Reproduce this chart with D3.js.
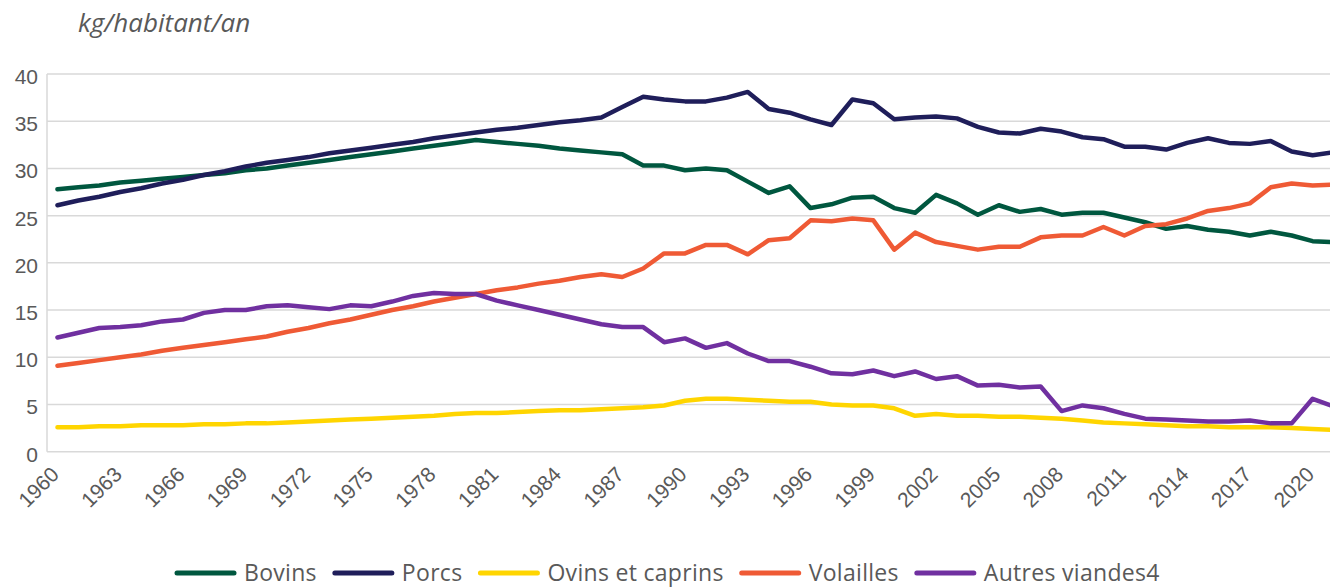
<!DOCTYPE html>
<html>
<head>
<meta charset="utf-8">
<script src="https://cdn.jsdelivr.net/npm/d3@7"></script>
<style>
    body { margin: 0; background: #fff; }
    svg { display: block; font-family: "Open Sans", "Noto Sans", sans-serif; }
</style>
</head>
<body>
<script>
// consommation de viande par habitant, 1960-2021
var years = d3.range(1960, 2022);
var tickYears = d3.range(1960, 2021, 3);
var yTicks = [0, 5, 10, 15, 20, 25, 30, 35, 40];
var seriesNames = ["Bovins", "Porcs", "Ovins et caprins", "Volailles", "Autres viandes4"];
var seriesColors = ["#00573f", "#1f1e5a", "#ffd500", "#ef5a35", "#7030a0"];

var bovins = [27.8, 28.0, 28.2, 28.5, 28.7, 28.9, 29.1, 29.3, 29.5, 29.8,
    30.0, 30.3, 30.6, 30.9, 31.2, 31.5, 31.8, 32.1, 32.4, 32.7,
    33.0, 32.8, 32.6, 32.4, 32.1, 31.9, 31.7, 31.5, 30.3, 30.3,
    29.8, 30.0, 29.8, 28.6, 27.4, 28.1, 25.8, 26.2, 26.9, 27.0,
    25.8, 25.3, 27.2, 26.3, 25.1, 26.1, 25.4, 25.7, 25.1, 25.3,
    25.3, 24.8, 24.3, 23.6, 23.9, 23.5, 23.3, 22.9, 23.3, 22.9,
    22.3, 22.2];
var porcs = [26.1, 26.6, 27.0, 27.5, 27.9, 28.4, 28.8, 29.3, 29.7, 30.2,
    30.6, 30.9, 31.2, 31.6, 31.9, 32.2, 32.5, 32.8, 33.2, 33.5,
    33.8, 34.1, 34.3, 34.6, 34.9, 35.1, 35.4, 36.5, 37.6, 37.3,
    37.1, 37.1, 37.5, 38.1, 36.3, 35.9, 35.2, 34.6, 37.3, 36.9,
    35.2, 35.4, 35.5, 35.3, 34.4, 33.8, 33.7, 34.2, 33.9, 33.3,
    33.1, 32.3, 32.3, 32.0, 32.7, 33.2, 32.7, 32.6, 32.9, 31.8,
    31.4, 31.7];
var ovins = [2.6, 2.6, 2.7, 2.7, 2.8, 2.8, 2.8, 2.9, 2.9, 3.0,
    3.0, 3.1, 3.2, 3.3, 3.4, 3.5, 3.6, 3.7, 3.8, 4.0,
    4.1, 4.1, 4.2, 4.3, 4.4, 4.4, 4.5, 4.6, 4.7, 4.9,
    5.4, 5.6, 5.6, 5.5, 5.4, 5.3, 5.3, 5.0, 4.9, 4.9,
    4.6, 3.8, 4.0, 3.8, 3.8, 3.7, 3.7, 3.6, 3.5, 3.3,
    3.1, 3.0, 2.9, 2.8, 2.7, 2.7, 2.6, 2.6, 2.6, 2.5,
    2.4, 2.3];
var volailles = [9.1, 9.4, 9.7, 10.0, 10.3, 10.7, 11.0, 11.3, 11.6, 11.9,
    12.2, 12.7, 13.1, 13.6, 14.0, 14.5, 15.0, 15.4, 15.9, 16.3,
    16.7, 17.1, 17.4, 17.8, 18.1, 18.5, 18.8, 18.5, 19.4, 21.0,
    21.0, 21.9, 21.9, 20.9, 22.4, 22.6, 24.5, 24.4, 24.7, 24.5,
    21.4, 23.2, 22.2, 21.8, 21.4, 21.7, 21.7, 22.7, 22.9, 22.9,
    23.8, 22.9, 23.9, 24.1, 24.7, 25.5, 25.8, 26.3, 28.0, 28.4,
    28.2, 28.3];
var autres = [12.1, 12.6, 13.1, 13.2, 13.4, 13.8, 14.0, 14.7, 15.0, 15.0,
    15.4, 15.5, 15.3, 15.1, 15.5, 15.4, 15.9, 16.5, 16.8, 16.7,
    16.7, 16.0, 15.5, 15.0, 14.5, 14.0, 13.5, 13.2, 13.2, 11.6,
    12.0, 11.0, 11.5, 10.4, 9.6, 9.6, 9.0, 8.3, 8.2, 8.6,
    8.0, 8.5, 7.7, 8.0, 7.0, 7.1, 6.8, 6.9, 4.3, 4.9,
    4.6, 4.0, 3.5, 3.4, 3.3, 3.2, 3.2, 3.3, 3.0, 3.0,
    5.6, 4.8];

window.onload = function () {
    var width = 1330;
    var height = 588;
    var margin = {left: 47, top: 74, bottom: 136};
    var plotRight = 1344; // le graphique d'origine est coupé à droite

    var svg = d3.select("body")
        .append("svg")
        .attr("width", width)
        .attr("height", height);

    var x = d3.scaleBand()
        .domain(years)
        .range([margin.left, plotRight]);
    var y = d3.scaleLinear()
        .domain([0, 40])
        .range([height - margin.bottom - 0.3, margin.top]);

    // grille
    svg.append("g")
        .selectAll("line")
        .data(yTicks)
        .enter()
        .append("line")
        .attr("x1", margin.left)
        .attr("x2", width)
        .attr("y1", function (d) { return y(d); })
        .attr("y2", function (d) { return y(d); })
        .style("stroke", "#d9d9d9")
        .style("stroke-width", 1.5);

    svg.append("line")
        .attr("x1", margin.left)
        .attr("x2", margin.left)
        .attr("y1", y(40))
        .attr("y2", y(0))
        .style("stroke", "#d9d9d9")
        .style("stroke-width", 1.5);

    // axe y
    var yAxis = svg.append("g")
        .attr("transform", "translate(" + (margin.left - 9) + ",0)")
        .call(d3.axisLeft(y).tickValues(yTicks).tickSize(0).tickPadding(0));
    yAxis.select(".domain").remove();
    yAxis.selectAll("text")
        .attr("dy", "0.45em")
        .style("font-size", "21px")
        .style("fill", "#595959");

    // axe x
    var xAxis = svg.append("g")
        .attr("transform", "translate(0," + y(0) + ")")
        .call(d3.axisBottom(x).tickValues(tickYears).tickSize(0).tickPadding(0));
    xAxis.select(".domain").remove();
    xAxis.selectAll("text")
        .attr("dy", null)
        .attr("y", 0)
        .attr("transform", "translate(-1,20) rotate(-45)")
        .style("text-anchor", "end")
        .style("dominant-baseline", "middle")
        .style("font-size", "21px")
        .style("fill", "#595959");

    // titre de l'axe
    svg.append("text")
        .attr("x", 78)
        .attr("y", 32)
        .style("font-size", "26px")
        .style("font-style", "italic")
        .style("fill", "#595959")
        .text("kg/habitant/an");

    var allSeries = [bovins, porcs, ovins, volailles, autres];
    var line = d3.line()
        .x(function (d, i) { return x(years[i]) + x.bandwidth() / 2; })
        .y(function (d) { return y(d); });

    svg.append("g")
        .selectAll("path")
        .data(allSeries)
        .enter()
        .append("path")
        .attr("d", function (d) { return line(d); })
        .style("fill", "none")
        .style("stroke", function (d, i) { return seriesColors[i]; })
        .style("stroke-width", 4.5)
        .style("stroke-linejoin", "round")
        .style("stroke-linecap", "round");

    // légende
    var legend = svg.append("g");
    var lx = 174;
    var ly = 573;
    seriesNames.forEach(function (name, i) {
        legend.append("line")
            .attr("x1", lx + 3)
            .attr("x2", lx + 60)
            .attr("y1", ly)
            .attr("y2", ly)
            .style("stroke", seriesColors[i])
            .style("stroke-width", 5)
            .style("stroke-linecap", "round");
        var t = legend.append("text")
            .attr("x", lx + 70)
            .attr("y", ly)
            .attr("dy", "0.35em")
            .style("font-size", "23px")
            .style("letter-spacing", "0.3px")
            .style("fill", "#595959")
            .text(name);
        lx = lx + 70 + t.node().getComputedTextLength() + 15;
    });
}
</script>
</body>
</html>
